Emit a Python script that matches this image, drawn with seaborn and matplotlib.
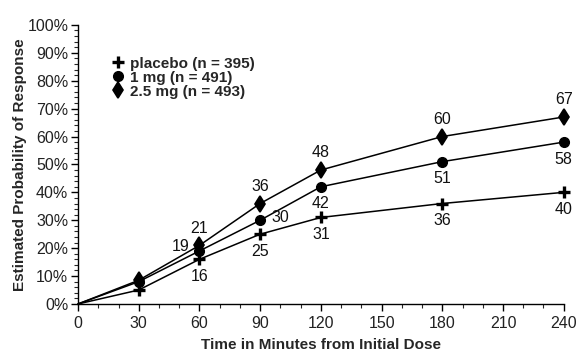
import numpy as np
import matplotlib
matplotlib.use('Agg')
import matplotlib.pyplot as plt
import seaborn as sns
import pandas as pd
from matplotlib.ticker import MultipleLocator, PercentFormatter

# ---------------------------------------------------------------------------- #
# DATA                                                                         #
# ---------------------------------------------------------------------------- #
minutes = [0, 30, 60, 90, 120, 180, 240]
placebo = [0, 5, 16, 25, 31, 36, 40]
one_mg = [0, 8, 19, 30, 42, 51, 58]
two_half_mg = [0, 8.5, 21, 36, 48, 60, 67]
series_names = ['placebo (n = 395)', '1 mg (n = 491)', '2.5 mg (n = 493)']

df = pd.DataFrame({
    'Minutes': minutes * 3,
    'Response': placebo + one_mg + two_half_mg,
    'Group': [n for n in series_names for _ in minutes],
})

sns.set_style('ticks')
plt.rcParams['font.family'] = ['Liberation Sans', 'DejaVu Sans']

fig = plt.figure(figsize=(5.88, 3.61), dpi=100)
ax = fig.add_axes([0.1327, 0.158, 0.826, 0.773])

markers = {'placebo (n = 395)': '+', '1 mg (n = 491)': 'o', '2.5 mg (n = 493)': 'd'}
sizes = {'placebo (n = 395)': 9, '1 mg (n = 491)': 7, '2.5 mg (n = 493)': 8.5}
edges = {'placebo (n = 395)': 2.4, '1 mg (n = 491)': 1, '2.5 mg (n = 493)': 1.2}
for name in series_names:
    sub = df[df['Group'] == name]
    sns.lineplot(data=sub, x='Minutes', y='Response', ax=ax, color='black',
                 lw=1.1, marker=markers[name], markersize=sizes[name],
                 markeredgewidth=edges[name], markevery=list(range(1, len(minutes))),
                 markeredgecolor='black', markerfacecolor='black', label=name,
                 clip_on=False)

# point labels (text next to the markers)
lbl_kw = dict(fontsize=11.5, color='#111111')
for x, y in zip(minutes[2:], placebo[2:]):
    ax.annotate(str(y), (x, y), xytext=(0, -7), textcoords='offset points',
                ha='center', va='top', **lbl_kw)
for x, y in zip(minutes[2:], two_half_mg[2:]):
    ax.annotate(str(y), (x, y), xytext=(0, 7), textcoords='offset points',
                ha='center', va='bottom', **lbl_kw)
one_offsets = [(-7, 3, 'right', 'center'), (8, 2, 'left', 'center'),
               (0, -7, 'center', 'top'), (0, -7, 'center', 'top'),
               (0, -7, 'center', 'top')]
for (x, y), (dx, dy, ha, va) in zip(zip(minutes[2:], one_mg[2:]), one_offsets):
    ax.annotate(str(y), (x, y), xytext=(dx, dy), textcoords='offset points',
                ha=ha, va=va, **lbl_kw)

ax.set_xlim(0, 240)
ax.set_ylim(0, 100)
ax.xaxis.set_major_locator(MultipleLocator(30))
ax.xaxis.set_minor_locator(MultipleLocator(10))
ax.yaxis.set_major_locator(MultipleLocator(10))
ax.yaxis.set_minor_locator(MultipleLocator(2))
ax.yaxis.set_major_formatter(PercentFormatter(decimals=0))
ax.tick_params(which='major', length=5, width=1, labelsize=11.5, colors='black',
               labelcolor='#222222')
ax.tick_params(which='minor', length=3, width=0.8)
ax.tick_params(axis='x', pad=4)
ax.tick_params(axis='y', pad=2)
sns.despine(ax=ax)
for s in ['left', 'bottom']:
    ax.spines[s].set_color('black')
    ax.spines[s].set_linewidth(1)

ax.set_xlabel('Time in Minutes from Initial Dose', fontsize=11, fontweight='bold', labelpad=5)
ax.set_ylabel('Estimated Probability of Response', fontsize=11, fontweight='bold', labelpad=0)

leg = ax.legend(loc='upper left', bbox_to_anchor=(0.045, 0.935), frameon=False,
                handlelength=0.6, handletextpad=0.5, labelspacing=0.0,
                prop={'weight': 'bold', 'size': 11})
for h in leg.legend_handles:
    h.set_linestyle('none')

fig.savefig('out.png', dpi=100)
